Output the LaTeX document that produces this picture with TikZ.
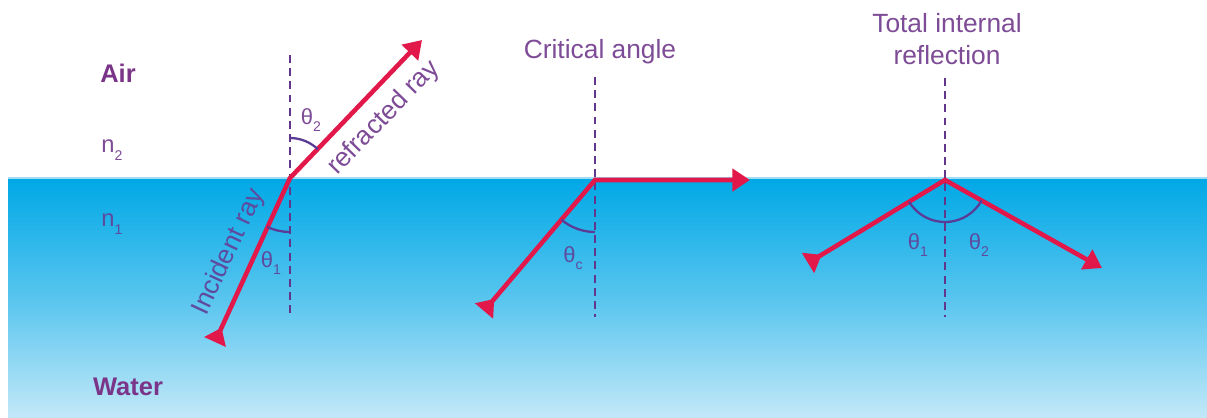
\documentclass[tikz,border=0pt]{standalone}
\usepackage{fontspec}
\setmainfont{Liberation Sans}
\usetikzlibrary{arrows.meta}
\definecolor{rayred}{HTML}{E2184B}
\definecolor{dashpurple}{HTML}{62368A}
\definecolor{txtpurple}{HTML}{7E4C97}
\definecolor{boldpurple}{HTML}{7A3488}
\definecolor{wetpurple}{HTML}{5E4A9E}
\definecolor{arcpurple}{HTML}{5A3C96}
\definecolor{wtop}{HTML}{00A8E6}
\definecolor{wbot}{HTML}{C2E8F8}
\definecolor{wline}{HTML}{9EDDF4}
\newcommand\lowsub[1]{\raisebox{-0.6ex}{\fontsize{8}{8}\selectfont #1}}
\begin{document}
\begin{tikzpicture}[x=0.02cm,y=0.02cm,
  ray/.style={draw=rayred, line width=2.6pt},
  tips/.style={{Triangle[reversed,length=9pt,width=13pt]}-{Triangle[length=10pt,width=12.5pt]}},
  normalline/.style={draw=dashpurple, line width=1.6pt, dash pattern=on 4.5pt off 3pt},
  anglearc/.style={draw=arcpurple, line width=1.3pt},
  big/.style={font=\fontsize{15}{18}\selectfont, text=txtpurple, inner sep=0pt},
  boldlbl/.style={font=\fontsize{14.5}{17}\selectfont\bfseries, text=boldpurple, inner sep=0pt},
  nlbl/.style={font=\fontsize{13.5}{16}\selectfont, inner sep=0pt},
  thlbl/.style={font=\fontsize{12.5}{14}\selectfont, inner sep=0pt}]
\useasboundingbox (0,0) rectangle (1207,417);
\fill[white] (0,0) rectangle (1207,417);
\shade[top color=wtop, bottom color=wbot, middle color=wtop!55!wbot] (8,0) rectangle (1207,239);
\draw[wline, line width=0.6pt] (8,239) -- (1207,239);

% side labels
\node[boldlbl] (air) at (118,344) {Air};
\node[nlbl, text=txtpurple] (n2) at (112,267) {n\lowsub{2}};
\node[nlbl, text=wetpurple] (n1) at (112,193) {n\lowsub{1}};
\node[boldlbl] (water) at (128,30) {Water};

% ---- left: refraction
\coordinate (J1) at (290,239);
\coordinate (N1t) at (290,362);
\coordinate (N1b) at (290,99);
\coordinate (R1) at (422,377);
\coordinate (I1) at (215,75);
\draw[normalline] (N1t) -- (N1b);
\draw[ray, tips] (I1) -- (J1) -- (R1);
\draw[anglearc] (J1) ++(90:0.8cm) arc[start angle=90, end angle=46, radius=0.8cm];
\draw[anglearc] (J1) ++(270:1.08cm) arc[start angle=270, end angle=245, radius=1.08cm];
\node[thlbl, text=txtpurple] (th2a) at (311,297) {θ\lowsub{2}};
\node[thlbl, text=wetpurple] (th1a) at (271,154) {θ\lowsub{1}};
\node[big, rotate=46] (refr) at (384,299) {refracted ray};
\node[big, rotate=65, text=wetpurple] (inc) at (229,165) {Incident ray};

% ---- middle: critical angle
\node[big] (crit) at (600,365) {Critical angle};
\coordinate (J2) at (595,237);
\coordinate (N2t) at (595,340);
\coordinate (N2b) at (595,100);
\coordinate (H2) at (750,237);
\coordinate (I2) at (484,106);
\draw[normalline] (N2t) -- (N2b);
\draw[ray, tips] (I2) -- (J2) -- (H2);
\draw[anglearc] (J2) ++(270:1.04cm) arc[start angle=270, end angle=230, radius=1.04cm];
\node[thlbl, text=wetpurple] (thc) at (573,159) {θ\lowsub{c}};

% ---- right: total internal reflection
\node[big, align=center] (tir) at (947,378) {Total internal\\reflection};
\coordinate (J3) at (945,237);
\coordinate (N3t) at (945,339);
\coordinate (N3b) at (945,100);
\coordinate (I3) at (808,154);
\coordinate (R3) at (1102,149);
\draw[normalline] (N3t) -- (N3b);
\draw[ray, tips] (I3) -- (J3) -- (R3);
\draw[anglearc] (J3) ++(211:0.84cm) arc[start angle=211, end angle=331, radius=0.84cm];
\node[thlbl, text=wetpurple] (th1b) at (918,172) {θ\lowsub{1}};
\node[thlbl, text=wetpurple] (th2b) at (979,172) {θ\lowsub{2}};
\end{tikzpicture}
\end{document}
